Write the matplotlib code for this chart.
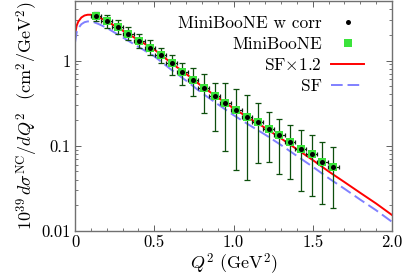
import matplotlib
matplotlib.use("Agg")
import matplotlib.pyplot as plt
from matplotlib import ticker
import numpy as np

plt.rcParams['font.family'] = 'cmr10'
plt.rcParams['mathtext.fontset'] = 'cm'
plt.rcParams['axes.formatter.use_mathtext'] = True
plt.rcParams['font.size'] = 12

# MiniBooNE NC elastic data
q2_data = [0.133, 0.201, 0.269, 0.337, 0.405, 0.473, 0.541, 0.609, 0.677, 0.745,
           0.813, 0.881, 0.949, 1.017, 1.085, 1.153, 1.221, 1.289, 1.357, 1.425,
           1.493, 1.561, 1.629]
xsec = [3.30, 2.88, 2.45, 2.07, 1.71, 1.42, 1.175, 0.93, 0.744, 0.594,
        0.474, 0.379, 0.316, 0.26, 0.22, 0.19, 0.157, 0.133, 0.110, 0.091,
        0.0796, 0.0653, 0.0571]
xsec_hi = [3.67, 3.43, 2.99, 2.45, 2.05, 1.72, 1.42, 1.15, 0.94, 0.81,
           0.70, 0.549, 0.543, 0.467, 0.397, 0.316, 0.251, 0.208, 0.177, 0.153,
           0.133, 0.110, 0.096]
xsec_lo = [2.88, 2.41, 2.05, 1.76, 1.42, 1.15, 0.93, 0.686, 0.52, 0.379,
           0.245, 0.149, 0.087, 0.0525, 0.0402, 0.063, 0.065, 0.0464, 0.0412, 0.0295,
           0.0256, 0.0207, 0.0184]
q2_halfwidth = 0.034

# spectral function curves
q2_curve = [0.0, 0.01, 0.02, 0.04, 0.06, 0.08, 0.10, 0.12, 0.15, 0.2, 0.3, 0.4, 0.5,
            0.6, 0.7, 0.8, 0.9, 1.0, 1.1, 1.2, 1.3, 1.4, 1.5, 1.6, 1.7, 1.8, 1.9, 2.0]
sf_12 = [2.0, 2.55, 2.85, 3.2, 3.38, 3.45, 3.45, 3.38, 3.22, 2.90, 2.25, 1.74, 1.35,
         0.96, 0.70, 0.50, 0.37, 0.275, 0.21, 0.162, 0.122, 0.091, 0.068, 0.050,
         0.0375, 0.028, 0.021, 0.0154]
sf = [1.62, 2.12, 2.38, 2.67, 2.82, 2.88, 2.88, 2.82, 2.68, 2.42, 1.875, 1.45, 1.125,
      0.80, 0.583, 0.417, 0.308, 0.229, 0.175, 0.135, 0.102, 0.076, 0.0567, 0.0417,
      0.0313, 0.0233, 0.0175, 0.0128]

fig = plt.figure(figsize=(4.07, 2.77), dpi=100)
ax = fig.add_axes([75/407, 46/277, 317/407, 230/277])

ax.plot(q2_curve, sf_12, '-', color='#ff0000', lw=1.4, label=r'SF$\times$1.2', zorder=2)
ax.plot(q2_curve, sf, '--', color='#8080ff', lw=1.4, dashes=(6, 2.5), label='SF', zorder=2)

yerr = [np.array(xsec) - np.array(xsec_lo), np.array(xsec_hi) - np.array(xsec)]
ax.errorbar(q2_data, xsec, yerr=yerr, fmt='none', ecolor='#0d4f0d', elinewidth=0.9,
            capsize=2.2, capthick=0.9, zorder=3)
ax.errorbar(q2_data, xsec, xerr=q2_halfwidth, fmt='none', ecolor='#102010', elinewidth=0.9,
            capsize=1.5, capthick=0.9, zorder=3)
h_green, = ax.plot(q2_data, xsec, 's', color='#3be33b', ms=5.5, mew=0, zorder=4)
h_black, = ax.plot(q2_data, xsec, 'o', color='black', ms=3.6, mew=0, zorder=5)

ax.set_yscale('log')
ax.set_xlim(0, 2.0)
ax.set_ylim(0.01, 5)
ax.set_xticks([0, 0.5, 1.0, 1.5, 2.0])
ax.set_xticklabels(['0', '0.5', '1.0', '1.5', '2.0'])
ax.xaxis.set_minor_locator(ticker.MultipleLocator(0.1))
ax.yaxis.set_major_formatter(ticker.FuncFormatter(lambda v, p: f"{v:g}"))
ax.yaxis.set_minor_formatter(ticker.NullFormatter())
ax.tick_params(which='both', direction='in', top=True, right=True, color='#606060')
ax.tick_params(which='major', length=4, width=0.7, pad=3)
ax.tick_params(which='minor', length=2, width=0.6)
for s in ax.spines.values():
    s.set_color('#707070')
    s.set_linewidth(1.0)

ax.set_xlabel(r'$Q^2$ (GeV$^2$)', fontsize=13, labelpad=1)
ax.set_ylabel(r'$10^{39}\,d\sigma^{\rm NC}/dQ^2$  (cm$^2$/GeV$^2$)', fontsize=13, labelpad=1)

lines = ax.get_lines()
handles = [h_black, h_green, lines[0], lines[1]]
labels = ['MiniBooNE w corr', 'MiniBooNE', r'SF$\times$1.2', 'SF']
ax.legend(handles, labels, loc='upper right', frameon=False, markerfirst=False,
          fontsize=12.5, handlelength=1.9, handletextpad=0.55, labelspacing=0.3,
          borderaxespad=0.0, bbox_to_anchor=(0.935, 0.965))

fig.savefig('out.png', dpi=100)
